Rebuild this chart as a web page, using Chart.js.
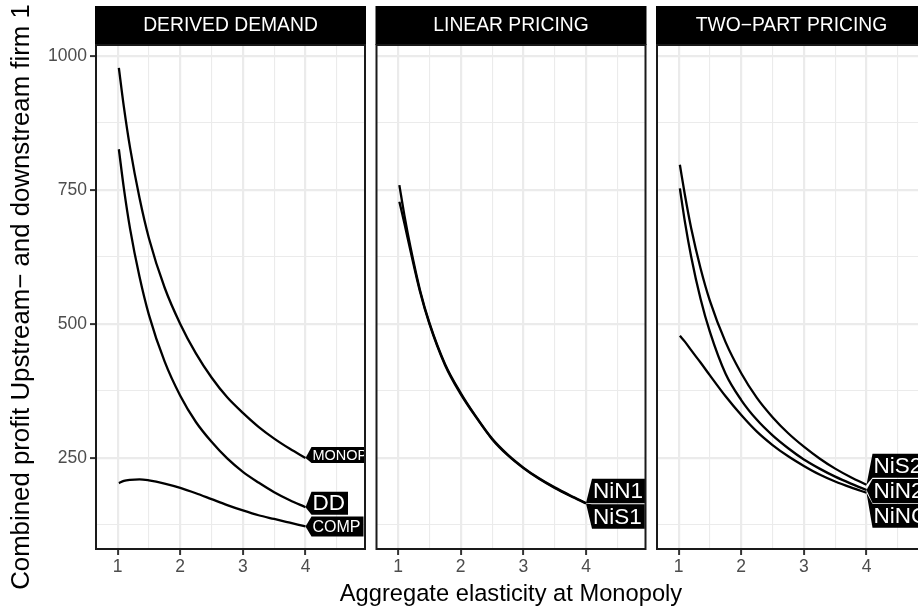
<!DOCTYPE html>
<html>
<head>
<meta charset="utf-8">
<script src="https://cdn.jsdelivr.net/npm/chart.js@4"></script>
<style>
  html, body { margin: 0; padding: 0; background: #fff; overflow: hidden; }
  #wrap { position: relative; width: 918px; height: 611px; overflow: hidden; }
  canvas { position: absolute; top: 0; }
  #xtitle {
    position: absolute; left: 211px; width: 600px; top: 582px;
    text-align: center; font: 23.7px/23.7px 'Liberation Sans', Arial, sans-serif; color: #000;
    white-space: nowrap;
  }
</style>
</head>
<body>
<div id="wrap">
  <canvas id="p1" width="370" height="611" style="left:0px"></canvas>
  <canvas id="p2" width="282" height="611" style="left:370px"></canvas>
  <canvas id="p3" width="290" height="611" style="left:651px"></canvas>
  <div id="xtitle">Aggregate elasticity at Monopoly</div>
</div>
<script>
// elasticity grid shared by all curves
const elasticity = [1.02, 1.1, 1.2, 1.35, 1.5, 1.75, 2, 2.25, 2.5, 2.75, 3, 3.25, 3.5, 3.75, 4];

// DERIVED DEMAND panel
const monopoly = [978, 905, 828, 735, 660, 568, 500, 445, 400, 363, 334, 308, 286, 267, 250];
const derivedDD = [826, 753, 677, 588, 517, 430, 366, 317, 280, 249, 224, 204, 186, 171, 158];
const comp = [203, 207, 209, 210, 208, 202, 194, 184, 173, 162, 152, 143, 136, 129, 122];

// LINEAR PRICING panel
const nin1 = [759, 703, 642, 563, 502, 425, 371, 326, 286, 256, 232, 212, 195, 180, 166];
const nis1 = [728, 688, 635, 560, 500, 423, 369, 325, 285, 255, 231, 211, 194, 179, 165];

// TWO-PART PRICING panel
const nis2 = [797, 741, 679, 604, 543, 466, 408, 362, 326, 296, 271, 249, 230, 214, 200];
const nin2 = [753, 691, 626, 547, 485, 407, 358, 321, 292, 268, 247, 230, 215, 202, 190];
const ninc = [478, 467, 451, 428, 404, 365, 330, 299, 274, 253, 235, 219, 206, 195, 185];

const panelTitles = ['DERIVED DEMAND', 'LINEAR PRICING', 'TWO\u2212PART PRICING'];
const yTicks = [125, 250, 375, 500, 625, 750, 875, 1000];
const xTicks = [1, 1.5, 2, 2.5, 3, 3.5, 4, 4.5];

const FONT = "'Liberation Sans', Arial, Helvetica, sans-serif";

function pts(ys) {
  return ys.map((y, i) => ({ x: elasticity[i], y: y }));
}

// strip, border and end-of-line labels
const facetPlugin = {
  id: 'facet',
  beforeDraw(chart) {
    const a = chart.chartArea, ctx = chart.ctx;
    ctx.save();
    ctx.fillStyle = '#000';
    ctx.fillRect(a.left - 1, 6, a.right - a.left + 2, 39);
    ctx.fillStyle = '#fff';
    ctx.font = '19.3px ' + FONT;
    ctx.textAlign = 'center';
    ctx.textBaseline = 'middle';
    ctx.fillText(chart.options.plugins.facet.title, (a.left + a.right) / 2, 26);
    ctx.restore();
  },
  afterDatasetsDraw(chart) {
    const a = chart.chartArea, ctx = chart.ctx;
    const labels = chart.options.plugins.facet.labels;
    ctx.save();
    ctx.beginPath();
    ctx.rect(a.left, a.top, a.right - a.left, a.bottom - a.top);
    ctx.clip();
    labels.forEach(l => {
      const ds = chart.data.datasets[l.ds].data;
      const last = ds[ds.length - 1];
      const tx = chart.scales.x.getPixelForValue(last.x);
      const ty = chart.scales.y.getPixelForValue(last.y);
      const cy = ty + (l.dy || 0);
      const h = l.h;
      ctx.font = l.size + 'px ' + FONT;
      const w = ctx.measureText(l.text).width;
      const bx = tx + 6;
      ctx.fillStyle = '#000';
      ctx.beginPath();
      ctx.moveTo(tx, ty);
      ctx.lineTo(bx, cy - h / 2);
      ctx.lineTo(bx + w + 4, cy - h / 2);
      ctx.lineTo(bx + w + 4, cy + h / 2);
      ctx.lineTo(bx, cy + h / 2);
      ctx.closePath();
      ctx.fill();
      ctx.fillStyle = '#fff';
      ctx.textAlign = 'left';
      ctx.textBaseline = 'middle';
      ctx.fillText(l.text, bx + 1, cy + 1);
    });
    ctx.restore();
    ctx.save();
    ctx.strokeStyle = '#1a1a1a';
    ctx.lineWidth = 2;
    ctx.strokeRect(a.left, a.top, a.right - a.left, a.bottom - a.top);
    ctx.restore();
  }
};

function makePanel(id, title, series, labels, opts) {
  const ctx = document.getElementById(id).getContext('2d');
  return new Chart(ctx, {
    type: 'line',
    data: {
      datasets: series.map(s => ({
        data: pts(s),
        borderColor: '#000',
        borderWidth: 2.3,
        pointRadius: 0,
        fill: false,
        cubicInterpolationMode: 'monotone'
      }))
    },
    options: {
      responsive: false,
      animation: false,
      events: [],
      layout: { padding: { top: 45, bottom: 0, left: 0, right: opts.padRight } },
      plugins: {
        legend: { display: false },
        tooltip: { enabled: false },
        facet: { title: title, labels: labels }
      },
      scales: {
        x: {
          type: 'linear',
          min: 0.655,
          max: 4.95,
          afterBuildTicks: s => { s.ticks = xTicks.map(v => ({ value: v })); },
          afterFit: s => { s.height = 62; },
          border: { display: false },
          grid: {
            color: '#EBEBEB',
            lineWidth: c => (Number.isInteger(c.tick.value) ? 2.2 : 1.1),
            drawTicks: true,
            tickLength: 6,
            tickWidth: 2,
            tickColor: c => (Number.isInteger(c.tick.value) ? '#333333' : 'rgba(0,0,0,0)')
          },
          ticks: {
            color: '#4D4D4D',
            font: { family: FONT, size: 17.5 },
            padding: 2,
            maxRotation: 0,
            autoSkip: false,
            callback: v => (Number.isInteger(v) ? String(v) : '')
          }
        },
        y: {
          type: 'linear',
          min: 80,
          max: 1020.5,
          afterBuildTicks: s => { s.ticks = yTicks.map(v => ({ value: v })); },
          afterFit: s => { s.width = opts.yWidth; },
          border: { display: false },
          grid: {
            color: '#EBEBEB',
            lineWidth: c => (c.tick.value % 250 === 0 ? 2.2 : 1.1),
            drawTicks: opts.yLabels,
            tickLength: 6,
            tickWidth: 2,
            tickColor: c => (c.tick.value % 250 === 0 ? '#333333' : 'rgba(0,0,0,0)')
          },
          ticks: {
            display: opts.yLabels,
            color: '#4D4D4D',
            font: { family: FONT, size: 17.5 },
            padding: 3,
            autoSkip: false,
            callback: v => (v % 250 === 0 ? String(v) : '')
          },
          title: {
            display: opts.yLabels,
            text: 'Combined profit Upstream\u2212 and downstream firm 1',
            color: '#000',
            font: { family: FONT, size: 25.8 },
            padding: { top: 6, bottom: 0 }
          }
        }
      }
    },
    plugins: [facetPlugin]
  });
}

makePanel('p1', panelTitles[0], [monopoly, derivedDD, comp], [
  { ds: 0, text: 'MONOPOLY', size: 14.5, h: 16, dy: -3 },
  { ds: 1, text: 'DD', size: 22.5, h: 23, dy: -4 },
  { ds: 2, text: 'COMP', size: 16, h: 20, dy: 0 }
], { padRight: 5, yWidth: 96, yLabels: true });

makePanel('p2', panelTitles[1], [nin1, nis1], [
  { ds: 0, text: 'NiN1', size: 22.5, h: 24.5, dy: -12 },
  { ds: 1, text: 'NiS1', size: 22.5, h: 24.5, dy: 13 }
], { padRight: 6.5, yWidth: 6.5, yLabels: false });

makePanel('p3', panelTitles[2], [nis2, nin2, ninc], [
  { ds: 0, text: 'NiS2', size: 22.5, h: 24, dy: -19 },
  { ds: 1, text: 'NiN2', size: 22.5, h: 24, dy: 1 },
  { ds: 2, text: 'NiNC', size: 22.5, h: 24, dy: 23 }
], { padRight: 15, yWidth: 6, yLabels: false });
</script>
</body>
</html>
